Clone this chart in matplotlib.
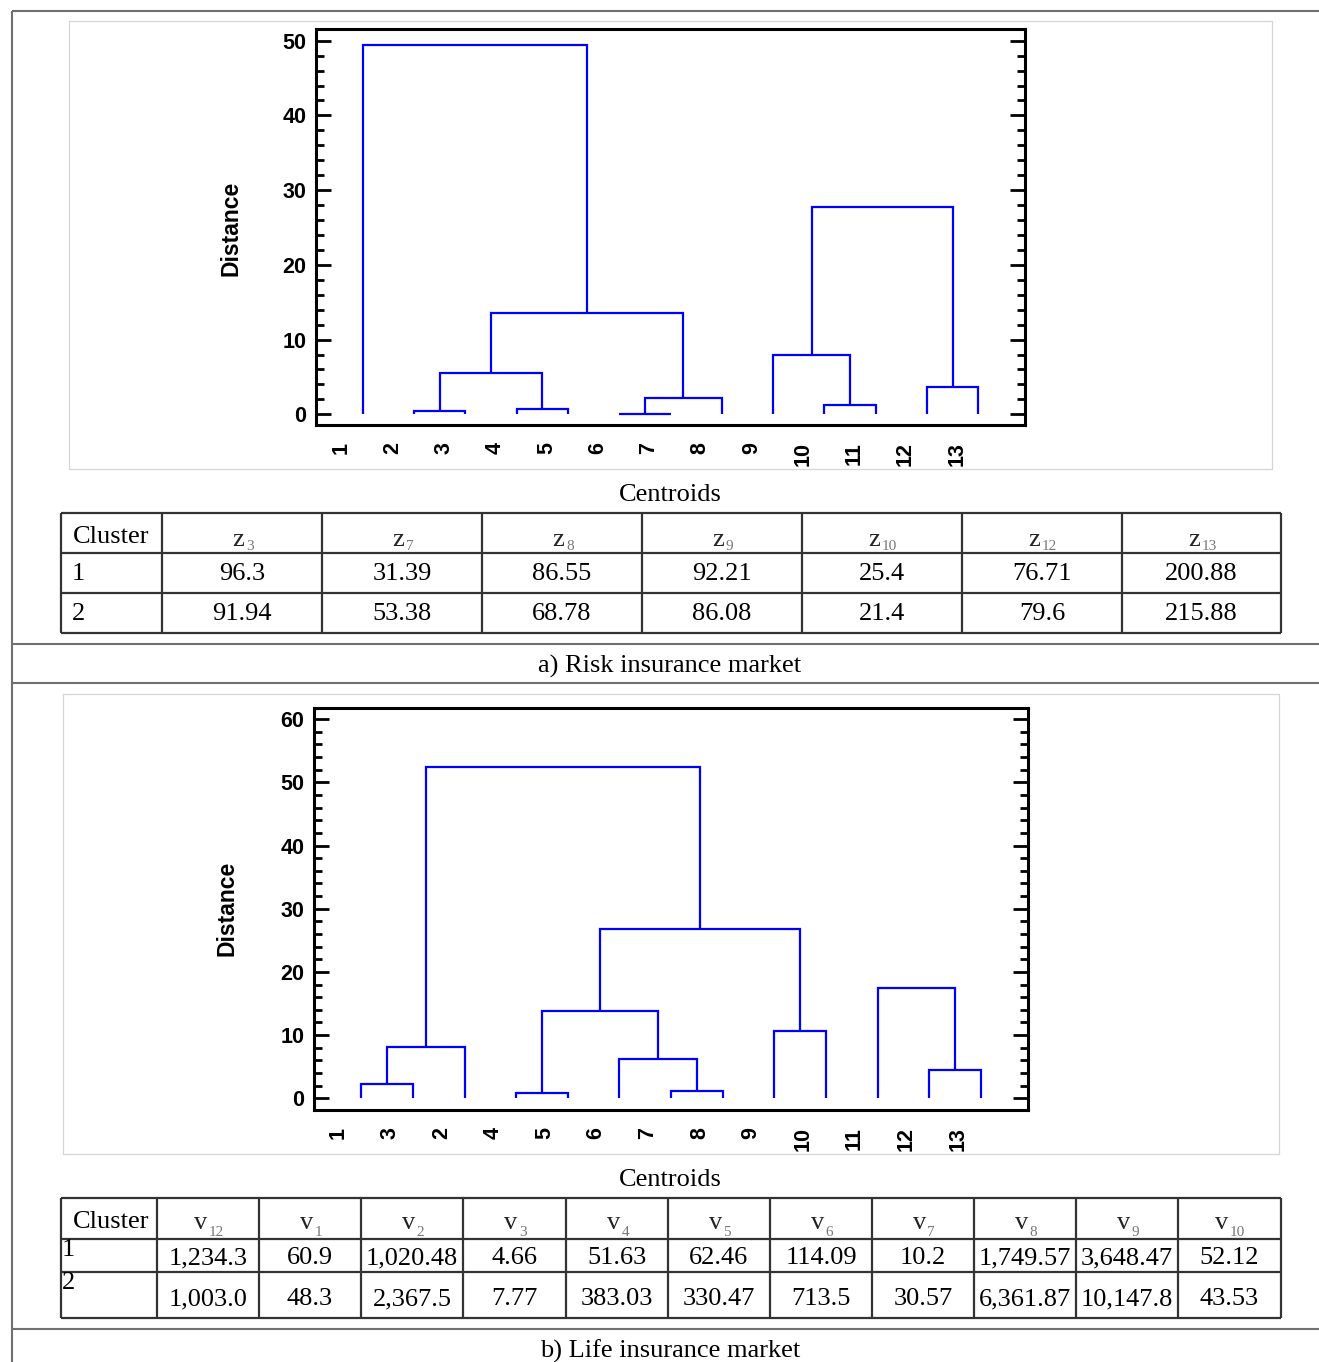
import matplotlib
matplotlib.use('Agg')
import matplotlib.pyplot as plt
from matplotlib.ticker import MultipleLocator

W, H, DPI = 1319, 1362, 100

# ---------------- data ----------------
# Dendrogram (a) Risk insurance market: leaves 0..12, merge k creates node 13+k
risk_leaf_labels = ['1', '2', '3', '4', '5', '6', '7', '8', '9', '10', '11', '12', '13']
risk_merge_a = [1, 3, 5, 15, 13, 17, 0, 9, 8, 11, 21]
risk_merge_b = [2, 4, 6, 7, 14, 16, 18, 10, 20, 12, 22]
risk_merge_h = [0.4, 0.7, 0.1, 2.2, 5.5, 13.6, 49.4, 1.3, 7.9, 3.7, 27.7]

# Dendrogram (b) Life insurance market
life_leaf_labels = ['1', '3', '2', '4', '5', '6', '7', '8', '9', '10', '11', '12', '13']
life_merge_a = [0, 13, 3, 6, 5, 15, 8, 18, 14, 11, 10]
life_merge_b = [1, 2, 4, 7, 16, 17, 9, 19, 20, 12, 22]
life_merge_h = [2.27, 8.07, 0.79, 1.21, 6.22, 13.76, 10.6, 26.8, 52.4, 4.43, 17.4]

# Centroid tables
risk_cols = ['3', '7', '8', '9', '10', '12', '13']
risk_c1 = ['96.3', '31.39', '86.55', '92.21', '25.4', '76.71', '200.88']
risk_c2 = ['91.94', '53.38', '68.78', '86.08', '21.4', '79.6', '215.88']

life_cols = ['12', '1', '2', '3', '4', '5', '6', '7', '8', '9', '10']
life_c1 = ['1,234.3', '60.9', '1,020.48', '4.66', '51.63', '62.46', '114.09',
           '10.2', '1,749.57', '3,648.47', '52.12']
life_c2 = ['1,003.0', '48.3', '2,367.5', '7.77', '383.03', '330.47', '713.5',
           '30.57', '6,361.87', '10,147.8', '43.53']

# ---------------- styles ----------------
SERIF = 'Liberation Serif'
SANS = 'Liberation Sans'
BLUE = '#0000ff'
FS_T = 19
FS_TICK = 15.5

fig = plt.figure(figsize=(W / DPI, H / DPI), dpi=DPI)
fig.patch.set_facecolor('white')

# overlay in pixel coords for frames / tables
ov = fig.add_axes([0, 0, 1, 1])
ov.set_xlim(0, W)
ov.set_ylim(H, 0)
ov.axis('off')


def hline(y, x0, x1, **kw):
    ov.plot([x0, x1], [y, y], solid_capstyle='butt', **kw)


def vline(x, y0, y1, **kw):
    ov.plot([x, x], [y0, y1], solid_capstyle='butt', **kw)


# outer document frame
frame_kw = dict(color='#707070', lw=1.5)
hline(10.5, 12, W, **frame_kw)
vline(12, 10.5, H, **frame_kw)
for y in (644, 683, 1329):
    hline(y, 12, W, **frame_kw)

# light frames around plots
for (x0, y0, x1, y1) in [(69, 21, 1272, 469), (63, 694, 1279, 1154)]:
    ov.plot([x0, x1, x1, x0, x0], [y0, y0, y1, y1, y0], color='#d6d6d6', lw=0.9)


def axes_px(l, t, r, b):
    return fig.add_axes([l / W, 1 - b / H, (r - l) / W, (b - t) / H])


def draw_dendro(ax, labels, ma, mb, mh, ylim, shift):
    n = len(labels)
    xs = {i: i + 1.0 for i in range(n)}
    hs = {i: 0.0 for i in range(n)}
    for k, (a, b, h) in enumerate(zip(ma, mb, mh)):
        xa, xb = xs[a], xs[b]
        ax.plot([xa, xa, xb, xb], [hs[a], h, h, hs[b]], color=BLUE, lw=1.6,
                solid_joinstyle='miter', solid_capstyle='butt')
        xs[n + k] = (xa + xb) / 2
        hs[n + k] = h
    ax.set_xlim(0.085, 13.91)
    ax.set_ylim(*ylim)
    ax.set_xticks([i + 1 + shift for i in range(n)])
    ax.set_xticklabels(labels, rotation=90, fontsize=FS_TICK, fontweight='bold',
                       family=SANS, va='top', ha='center')
    ax.tick_params(axis='x', length=0, pad=12)
    ax.yaxis.set_major_locator(MultipleLocator(10))
    ax.yaxis.set_minor_locator(MultipleLocator(2))
    ax.tick_params(axis='y', which='major', direction='in', length=11, width=2,
                   left=True, right=True, pad=7)
    ax.tick_params(axis='y', which='minor', direction='in', length=6, width=2,
                   left=True, right=True)
    for lab in ax.get_yticklabels():
        lab.set_fontsize(FS_TICK)
        lab.set_fontweight('bold')
        lab.set_family(SANS)
    for s in ax.spines.values():
        s.set_linewidth(2.2)
        s.set_color('black')


ax1 = axes_px(316, 29.5, 1025, 425.5)
draw_dendro(ax1, risk_leaf_labels, risk_merge_a, risk_merge_b, risk_merge_h,
            (-1.5, 51.5), -0.42)
ax2 = axes_px(314, 707.5, 1028, 1110)
draw_dendro(ax2, life_leaf_labels, life_merge_a, life_merge_b, life_merge_h,
            (-1.85, 61.85), -0.45)

# y labels
ov.text(231, 228, 'Distance', rotation=90, ha='center', va='center',
        fontsize=16.5, fontweight='bold', family=SANS)
ov.text(227, 908, 'Distance', rotation=90, ha='center', va='center',
        fontsize=16.5, fontweight='bold', family=SANS)

# "Centroids" titles and captions
ov.text(670, 501, 'Centroids', ha='center', va='baseline', fontsize=FS_T, family=SERIF)
ov.text(670, 1186, 'Centroids', ha='center', va='baseline', fontsize=FS_T, family=SERIF)
ov.text(670, 673, 'a) Risk insurance market', ha='center', va='baseline',
        fontsize=FS_T, family=SERIF)
ov.text(670, 1358, 'b) Life insurance market', ha='center', va='baseline',
        fontsize=FS_T, family=SERIF)

GRID = dict(color='#333333', lw=1.6)
PX_PER_PT = DPI / 72.0


def draw_table(xedges, yedges, base, subs, r1, r2, hdr_base_y, sub_dy,
               clus_base_y, r_label_y, r_label_va, r_label_x, val_base_y):
    for x in xedges:
        vline(x, yedges[0], yedges[-1], **GRID)
    for y in yedges:
        hline(y, xedges[0], xedges[-1], **GRID)
    ov.text(xedges[0] + 12, clus_base_y, 'Cluster', ha='left', va='baseline',
            fontsize=FS_T, family=SERIF)
    w_base = (0.47 if base == 'z' else 0.5) * FS_T * PX_PER_PT
    for j, s in enumerate(subs):
        cx = (xedges[j + 1] + xedges[j + 2]) / 2
        w_sub = 0.5 * 11 * PX_PER_PT * len(s)
        xr = cx + (w_base - w_sub) / 2
        ov.text(xr, hdr_base_y, base, ha='right', va='baseline',
                fontsize=FS_T, family=SERIF, color='#222222')
        ov.text(xr + 1.5, hdr_base_y + sub_dy, s, ha='left', va='baseline',
                fontsize=11, family=SERIF, color='#777777')
    for i, row in enumerate([r1, r2]):
        ov.text(r_label_x, r_label_y[i], str(i + 1), ha='left', va=r_label_va,
                fontsize=FS_T, family=SERIF)
        for j, v in enumerate(row):
            cx = (xedges[j + 1] + xedges[j + 2]) / 2
            ov.text(cx, val_base_y[i], v, ha='center', va='baseline',
                    fontsize=FS_T, family=SERIF)


risk_x = [61, 162, 322, 482, 642, 802, 962, 1122, 1281]
risk_y = [513, 552.5, 593, 632.5]
draw_table(risk_x, risk_y, 'z', risk_cols, risk_c1, risk_c2,
           hdr_base_y=546, sub_dy=4.5, clus_base_y=543,
           r_label_y=[580, 620], r_label_va='baseline', r_label_x=72,
           val_base_y=[580, 620])

life_x = [61, 157, 259, 361, 463, 566, 668, 770, 872, 974, 1076, 1178, 1281]
life_y = [1197.5, 1238.5, 1271.5, 1317.5]
draw_table(life_x, life_y, 'v', life_cols, life_c1, life_c2,
           hdr_base_y=1229, sub_dy=7, clus_base_y=1228,
           r_label_y=[1239, 1272], r_label_va='top', r_label_x=61.5,
           val_base_y=[1264, 1305])

fig.savefig('out.png', dpi=DPI, facecolor='white')
